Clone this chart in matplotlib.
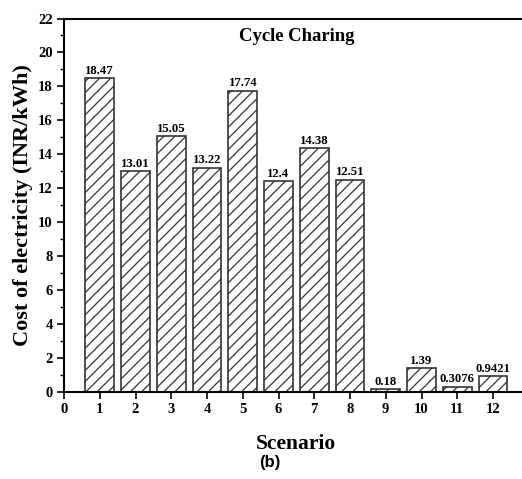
import numpy as np
import matplotlib
matplotlib.use('Agg')
import matplotlib.pyplot as plt

scenarios = [1, 2, 3, 4, 5, 6, 7, 8, 9, 10, 11, 12]
cost = [18.47, 13.01, 15.05, 13.22, 17.74, 12.4, 14.38, 12.51, 0.18, 1.39, 0.3076, 0.9421]
cost_labels = ['18.47', '13.01', '15.05', '13.22', '17.74', '12.4', '14.38', '12.51',
               '0.18', '1.39', '0.3076', '0.9421']

plt.rcParams['font.family'] = ['Liberation Serif', 'DejaVu Serif']
plt.rcParams['font.weight'] = 'bold'
plt.rcParams['hatch.linewidth'] = 0.9

fig = plt.figure(figsize=(5.22, 4.79), dpi=100)
ax = fig.add_axes([64/522, 87/479, 13*35.75/522, 373.5/479])

bars = ax.bar(scenarios, cost, width=0.8, color='white', edgecolor='#333333',
              linewidth=1.2, hatch='///')
for x, v, s in zip(scenarios, cost, cost_labels):
    ax.text(x, v + 0.08, s, ha='center', va='bottom', fontsize=9.2, fontweight='bold')

ax.set_xlim(0, 13)
ax.set_ylim(0, 22)
ax.set_xticks(range(0, 13))
ax.set_yticks(range(0, 23, 2))
ax.set_yticks(range(1, 22, 2), minor=True)
ax.tick_params(axis='both', which='major', direction='out', length=5, width=1.2,
               labelsize=10.5, pad=3)
ax.tick_params(axis='y', which='minor', direction='out', length=3, width=1.0)
for lab in ax.get_xticklabels() + ax.get_yticklabels():
    lab.set_fontweight('bold')
for sp in ax.spines.values():
    sp.set_linewidth(1.5)

ax.text(6.5, 20.95, 'Cycle Charing', ha='center', va='center', fontsize=13.4, fontweight='bold')
ax.set_ylabel('Cost of electricity (INR/kWh)', fontsize=16, fontweight='bold', labelpad=4)
ax.set_xlabel('Scenario', fontsize=15.5, fontweight='bold', labelpad=13)
fig.text(270/522, 1 - 463/479, '(b)', ha='center', va='center', fontsize=12,
         fontweight='bold', family='Liberation Sans')

fig.savefig('out.png', dpi=100)
